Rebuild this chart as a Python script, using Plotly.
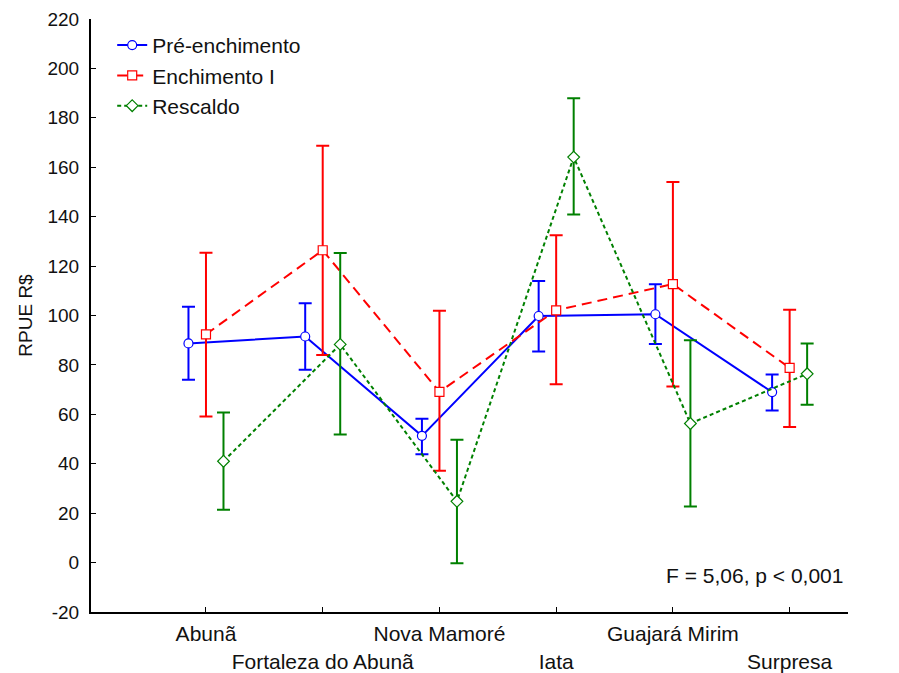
import plotly.graph_objects as go

categories = ["Abunã", "Fortaleza do Abunã", "Nova Mamoré", "Iata", "Guajará Mirim", "Surpresa"]
tick_labels = ["Abunã", "<br>Fortaleza do Abunã", "Nova Mamoré", "<br>Iata", "Guajará Mirim", "<br>Surpresa"]
y_ticks = [-20, 0, 20, 40, 60, 80, 100, 120, 140, 160, 180, 200, 220]
y_tick_labels = ["-20", "0", "20", "40", "60", "80", "100", "120", "140", "160", "180", "200", "220"]

pre_mean = [88.7, 91.5, 51.3, 99.8, 100.5, 69.0]
pre_upper = [103.5, 105.0, 58.2, 114.0, 112.6, 76.1]
pre_lower = [74.0, 78.0, 43.8, 85.4, 88.5, 61.6]

ench_mean = [92.4, 126.4, 69.1, 102.1, 112.7, 78.8]
ench_upper = [125.4, 168.7, 101.9, 132.5, 154.0, 102.3]
ench_lower = [59.1, 84.0, 37.2, 72.2, 71.3, 54.9]

resc_mean = [41.0, 88.3, 24.8, 164.1, 56.3, 76.4]
resc_upper = [60.7, 125.3, 49.7, 187.9, 90.0, 88.7]
resc_lower = [21.4, 51.8, -0.3, 140.9, 22.7, 63.9]

series = [
    ("Pré-enchimento", pre_mean, pre_upper, pre_lower, -0.15, "#0000FF", "solid", "circle", 9),
    ("Enchimento I", ench_mean, ench_upper, ench_lower, 0.0, "#FF0000", "10px,6px", "square", 9),
    ("Rescaldo", resc_mean, resc_upper, resc_lower, 0.15, "#008000", "4px,3px", "diamond", 9),
]

FONT = "Liberation Sans, Arial, sans-serif"

fig = go.Figure()
for name, mean, up, lo, off, col, dash, sym, msize in series:
    xs = [i + off for i in range(len(categories))]
    fig.add_trace(go.Scatter(
        x=xs, y=mean, name=name, mode="lines+markers",
        legendgroup=name,
        line=dict(color=col, width=2, dash=dash),
        marker=dict(symbol=sym, size=msize, color="white",
                    line=dict(color=col, width=1.2)),
        error_y=dict(type="data", symmetric=False,
                     array=[u - m for u, m in zip(up, mean)],
                     arrayminus=[m - l for m, l in zip(mean, lo)],
                     color=col, thickness=2, width=6.5),
    ))

fig.add_annotation(x=0.877, y=0.062, xref="paper", yref="paper",
                   xanchor="center", yanchor="middle",
                   text="F = 5,06, p < 0,001", showarrow=False,
                   font=dict(size=21, color="#111111", family=FONT))

fig.update_layout(
    width=891, height=665,
    margin=dict(l=83, r=51, t=11, b=61),
    paper_bgcolor="white", plot_bgcolor="white",
    font=dict(family=FONT, size=20, color="#111111"),
    showlegend=True,
    legend=dict(x=0.028, y=0.99, xanchor="left", yanchor="top",
                bgcolor="rgba(0,0,0,0)", font=dict(size=21),
                tracegroupgap=0, itemwidth=30),
    xaxis=dict(range=[-0.985, 5.5], tickmode="array",
               tickvals=list(range(len(categories))), ticktext=tick_labels,
               tickangle=0, automargin=False, ticklabelstandoff=2,
               showgrid=False, zeroline=False, showline=True,
               linecolor="black", linewidth=2, ticks="inside", ticklen=5,
               tickcolor="black", tickwidth=1,
               tickfont=dict(family=FONT, size=21)),
    yaxis=dict(range=[-20, 220], tickmode="array",
               tickvals=y_ticks, ticktext=y_tick_labels,
               automargin=False, ticklabelstandoff=6,
               showgrid=False, zeroline=False, showline=True,
               linecolor="black", linewidth=2, ticks="inside", ticklen=5,
               tickcolor="black", tickwidth=1,
               title=dict(text="RPUE R$", font=dict(size=19), standoff=10),
               tickfont=dict(size=19)),
)

fig.write_html("out.html")
